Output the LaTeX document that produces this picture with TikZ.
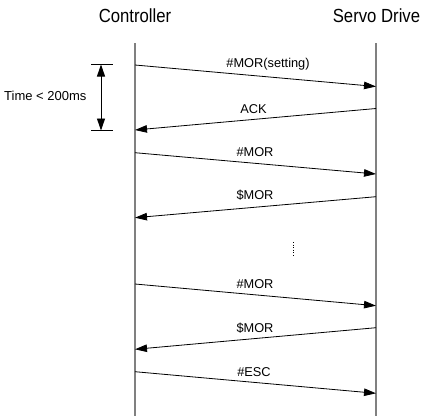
\documentclass[tikz,border=0pt]{standalone}
\usepackage{fontspec}
\setmainfont{Liberation Sans}
\newfontfamily\titlefont[FakeStretch=0.88]{Liberation Sans}
\usetikzlibrary{arrows.meta}
\begin{document}
\begin{tikzpicture}[x=1pt,y=-1pt,
  lifeline/.style={draw=black!50,line width=1.3pt},
  msg/.style={draw=black,line width=0.8pt,-{Triangle[length=12pt,width=7.5pt]}},
  msglabel/.style={anchor=base,inner sep=0pt,font=\fontsize{12.8}{14}\selectfont},
  title/.style={anchor=base,inner sep=0pt,font=\titlefont\fontsize{19}{21}\selectfont},
  tick/.style={draw=black,line width=0.8pt},
  span/.style={draw=black,line width=0.9pt,{Triangle[length=12pt,width=8pt]}-{Triangle[length=12pt,width=8pt]}}]
\useasboundingbox (0,0) rectangle (421,416);

% participants
\node[title] (ctrl) at (135,22.3) {Controller};
\node[title] (drive) at (376.5,22.3) {Servo Drive};

% lifelines
\coordinate (ctop) at (135,43);
\coordinate (cbot) at (135,416);
\coordinate (stop) at (376,43);
\coordinate (sbot) at (376,416);
\draw[lifeline] (ctop) -- (cbot);
\draw[lifeline] (stop) -- (sbot);

% message end points
\coordinate (m1a) at (135,65);    \coordinate (m1b) at (376,86.5);
\coordinate (m2a) at (376,108.5); \coordinate (m2b) at (135,130);
\coordinate (m3a) at (135,152.7); \coordinate (m3b) at (376,174);
\coordinate (m4a) at (376,196.7); \coordinate (m4b) at (135,217.7);
\coordinate (m5a) at (135,284);   \coordinate (m5b) at (376,305.7);
\coordinate (m6a) at (376,327.7); \coordinate (m6b) at (135,349.3);
\coordinate (m7a) at (135,371.7); \coordinate (m7b) at (376,393.3);

% messages
\draw[msg] (m1a) -- (m1b);
\draw[msg] (m2a) -- (m2b);
\draw[msg] (m3a) -- (m3b);
\draw[msg] (m4a) -- (m4b);
\draw[msg] (m5a) -- (m5b);
\draw[msg] (m6a) -- (m6b);
\draw[msg] (m7a) -- (m7b);

% message labels
\node[msglabel] (l1) at (268,67.3) {\#MOR(setting)};
\node[msglabel] (l2) at (253.5,113.5) {ACK};
\node[msglabel] (l3) at (255,156.2) {\#MOR};
\node[msglabel] (l4) at (255,199.8) {\$MOR};
\node[msglabel] (l5) at (255,288) {\#MOR};
\node[msglabel] (l6) at (255,332.2) {\$MOR};
\node[msglabel] (l7) at (254,376.2) {\#ESC};

% omitted exchanges
\coordinate (gapa) at (293.5,242);
\coordinate (gapb) at (293.5,256.5);
\draw[black,line width=1pt,dash pattern=on 1pt off 1.6pt] (gapa) -- (gapb);

% response time bracket
\coordinate (t1a) at (91,64.5);  \coordinate (t1b) at (113,64.5);
\coordinate (t2a) at (91,130.5); \coordinate (t2b) at (113,130.5);
\coordinate (ta) at (101,64.5);  \coordinate (tb) at (101,130.5);
\draw[tick] (t1a) -- (t1b);
\draw[tick] (t2a) -- (t2b);
\draw[span] (ta) -- (tb);
\node[anchor=base west,inner sep=0pt,font=\fontsize{13}{15}\selectfont] (tlabel) at (4,100) {Time < 200ms};
\end{tikzpicture}
\end{document}
